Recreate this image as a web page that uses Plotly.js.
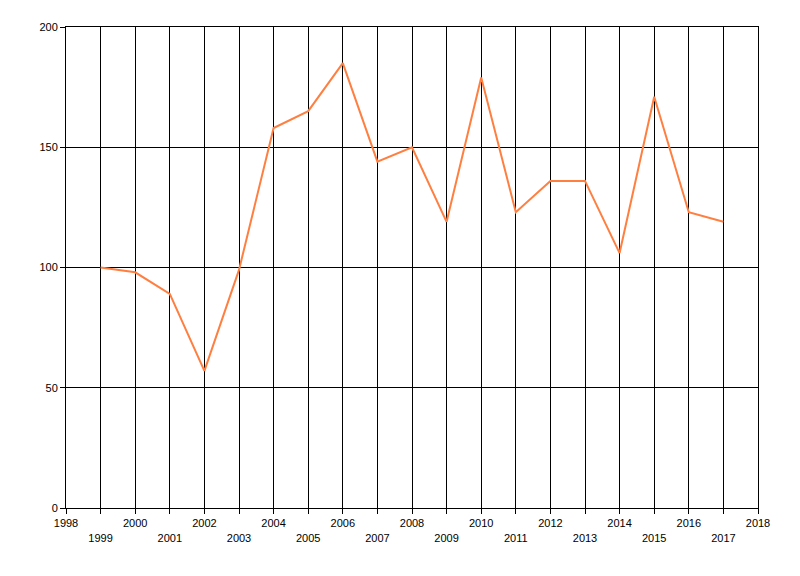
<!DOCTYPE html>
<html>
<head>
<meta charset="utf-8">
<script src="https://cdn.plot.ly/plotly-3.0.1.min.js"></script>
<style>
  body { margin: 0; background: #fff; }
  #chart { width: 800px; height: 576px; }
</style>
</head>
<body>
<div id="chart"></div>
<script>
// years and values
var years = [1999, 2000, 2001, 2002, 2003, 2004, 2005, 2006, 2007, 2008,
             2009, 2010, 2011, 2012, 2013, 2014, 2015, 2016, 2017];
var values = [100, 98, 89, 57, 99, 158, 165, 185, 144, 150,
              119, 179, 123, 136, 136, 106, 171, 123, 119];

// tick labels, odd years pushed down one line (staggered)
var tickYears = [];
var tickLabels = [];
for (var y = 1998; y <= 2018; y++) {
  tickYears.push(y);
  tickLabels.push(y % 2 === 0 ? String(y) : ' <br>' + y);
}

var trace = {
  x: years,
  y: values,
  type: 'scatter',
  mode: 'lines',
  line: { color: '#ff7f40', width: 2 },
  hoverinfo: 'x+y'
};

var layout = {
  width: 800,
  height: 576,
  margin: { l: 66, r: 42, t: 27, b: 68 },
  paper_bgcolor: '#fff',
  plot_bgcolor: '#fff',
  showlegend: false,
  font: { family: 'Liberation Sans, Arial, sans-serif', size: 11, color: '#000' },
  xaxis: {
    range: [1998, 2018],
    tickvals: tickYears,
    ticktext: tickLabels,
    showgrid: true,
    gridcolor: '#000',
    gridwidth: 1,
    showline: true,
    linecolor: '#000',
    linewidth: 1,
    mirror: true,
    ticks: 'outside',
    ticklen: 5,
    tickcolor: '#000',
    zeroline: false,
    tickangle: 0
  },
  yaxis: {
    range: [0, 200],
    tickvals: [0, 50, 100, 150, 200],
    showgrid: true,
    gridcolor: '#000',
    gridwidth: 1,
    showline: true,
    linecolor: '#000',
    linewidth: 1,
    mirror: true,
    ticks: 'outside',
    ticklen: 5,
    tickcolor: '#000',
    zeroline: false
  }
};

Plotly.newPlot('chart', [trace], layout, { displayModeBar: false, staticPlot: true });
</script>
</body>
</html>
